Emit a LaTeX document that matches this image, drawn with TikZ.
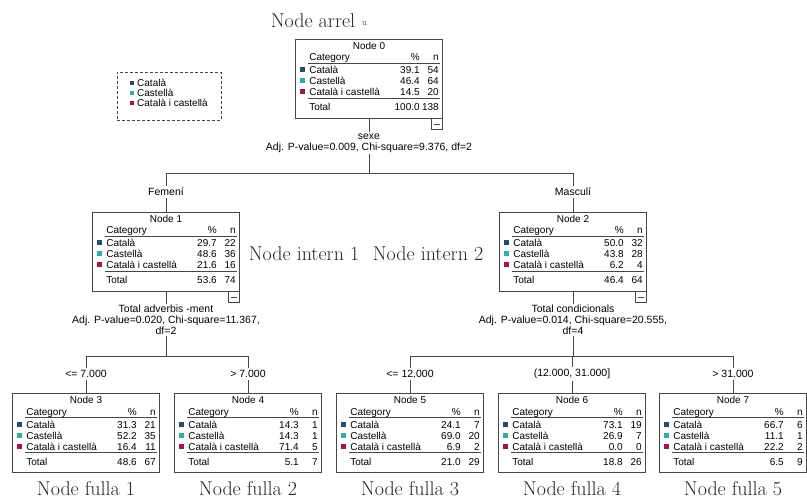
\documentclass[tikz,border=0pt]{standalone}
\usepackage{fontspec}
\setsansfont{Liberation Sans}
\usetikzlibrary{positioning, calc}
\definecolor{catblue}{RGB}{40, 75, 105}
\definecolor{castteal}{RGB}{55, 170, 160}
\definecolor{bothred}{RGB}{165, 20, 70}
\definecolor{treeline}{RGB}{70, 70, 70}

% one category row of a tree node: node, baseline, colour, label, %, n, row id
\newcommand{\spssrow}[7]{%
  \node[txt, anchor=base west] (#1-l#7) at ([xshift=14pt,yshift=-#2pt]#1.north west) {#4};
  \node[sq, fill=#3, left=3.5pt of #1-l#7] (#1-s#7) {};
  \node[txt, anchor=base east] (#1-p#7) at ([xshift=-23pt,yshift=-#2pt]#1.north east) {#5};
  \node[txt, anchor=base east] (#1-c#7) at ([xshift=-4pt,yshift=-#2pt]#1.north east) {#6};
}
% whole table of node k: k, then % and n for the three categories, then the total
\newcommand{\spsstable}[9]{%
  \node[txt] (n#1-t) at ([yshift=-7pt]n#1.north) {Node #1};
  \node[txt, anchor=base west] (n#1-h) at ([xshift=14pt,yshift=-22pt]n#1.north west) {Category};
  \node[txt, anchor=base east] (n#1-hp) at ([xshift=-23pt,yshift=-22pt]n#1.north east) {\%};
  \node[txt, anchor=base east] (n#1-hn) at ([xshift=-4pt,yshift=-22pt]n#1.north east) {n};
  \draw[rule] ([xshift=13pt,yshift=-24.5pt]n#1.north west) -- ([xshift=-3pt,yshift=-24.5pt]n#1.north east);
  \spssrow{n#1}{35}{catblue}{Català}{#2}{#3}{1}
  \spssrow{n#1}{46}{castteal}{Castellà}{#4}{#5}{2}
  \spssrow{n#1}{57}{bothred}{Català i castellà}{#6}{#7}{3}
  \draw[rule] ([xshift=13pt,yshift=-59.5pt]n#1.north west) -- ([xshift=-3pt,yshift=-59.5pt]n#1.north east);
  \node[txt, anchor=base west] (n#1-lt) at ([xshift=14pt,yshift=-72pt]n#1.north west) {Total};
  \node[txt, anchor=base east] (n#1-pt) at ([xshift=-23pt,yshift=-72pt]n#1.north east) {#8};
  \node[txt, anchor=base east] (n#1-ct) at ([xshift=-4pt,yshift=-72pt]n#1.north east) {#9};
}

\begin{document}
\begin{tikzpicture}[
    x=1pt, y=-1pt,
    tree/.style={rectangle, draw=treeline, line width=0.8pt, fill=white, minimum width=147pt, minimum height=79pt, inner sep=0pt},
    txt/.style={font=\sffamily\fontsize{10}{10}\selectfont, inner sep=0pt},
    split/.style={font=\sffamily\fontsize{10.5}{11}\selectfont, align=center, inner sep=1pt},
    branch/.style={font=\sffamily\fontsize{10.5}{11}\selectfont, inner sep=2pt},
    big/.style={font=\fontsize{20}{22}\selectfont, text=black!85, inner sep=0pt},
    sq/.style={rectangle, minimum size=5pt, inner sep=0pt},
    minus/.style={rectangle, draw=treeline, line width=0.8pt, minimum width=11pt, minimum height=11pt, inner sep=0pt},
    rule/.style={draw=treeline, line width=0.6pt},
    link/.style={draw=treeline, line width=0.8pt},
]
\useasboundingbox (0,0) rectangle (807,504);

% Labels
\node[big, anchor=base] (root) at (313,27) {Node arrel};
\node[font=\fontsize{9}{9}\selectfont, text=black!70, anchor=base west] (rootmark) at ([xshift=3pt,yshift=2pt]root.base east) {u};
\node[big, anchor=base] (int1) at (304,260) {Node intern 1};
\node[big, anchor=base] (int2) at (428,260) {Node intern 2};

% Legend
\node[draw=treeline, dashed, dash pattern=on 3pt off 2pt, line width=0.7pt, minimum width=104pt, minimum height=48pt] (legend) at (169,96) {};
\node[txt, anchor=west] (leg1) at (137,83) {Català};
\node[txt, anchor=west] (leg2) at (137,93) {Castellà};
\node[txt, anchor=west] (leg3) at (137,103) {Català i castellà};
\node[sq, minimum size=4pt, fill=catblue, left=2.5pt of leg1] (legsq1) {};
\node[sq, minimum size=4pt, fill=castteal, left=2.5pt of leg2] (legsq2) {};
\node[sq, minimum size=4pt, fill=bothred, left=2.5pt of leg3] (legsq3) {};

% Tree nodes
\node[tree] (n0) at (369,78.5) {};
\node[tree] (n1) at (166,251.5) {};
\node[tree] (n2) at (573,251.5) {};
\node[tree] (n3) at (86,433) {};
\node[tree] (n4) at (248,433) {};
\node[tree] (n5) at (410,433) {};
\node[tree] (n6) at (572,433) {};
\node[tree] (n7) at (733,433) {};

\spsstable{0}{39.1}{54}{46.4}{64}{14.5}{20}{100.0}{138}
\spsstable{1}{29.7}{22}{48.6}{36}{21.6}{16}{53.6}{74}
\spsstable{2}{50.0}{32}{43.8}{28}{6.2}{4}{46.4}{64}
\spsstable{3}{31.3}{21}{52.2}{35}{16.4}{11}{48.6}{67}
\spsstable{4}{14.3}{1}{14.3}{1}{71.4}{5}{5.1}{7}
\spsstable{5}{24.1}{7}{69.0}{20}{6.9}{2}{21.0}{29}
\spsstable{6}{73.1}{19}{26.9}{7}{0.0}{0}{18.8}{26}
\spsstable{7}{66.7}{6}{11.1}{1}{22.2}{2}{6.5}{9}

% Collapse boxes
\foreach \k in {0,1,2}{
  \node[minus, anchor=north east] (m\k) at (n\k.south east) {};
  \draw[link] ([xshift=2.5pt]m\k.west) -- ([xshift=-2.5pt]m\k.east);
}

% Split on sexe
\node[split] (s0) at (369,143) {sexe\\Adj. P-value=0.009, Chi-square=9.376, df=2};
\coordinate (j0) at (369,173);
\node[branch] (b1) at (166,192) {Femení};
\node[branch] (b2) at (573,192) {Masculí};
\draw[link] (n0.south) -- (s0.north);
\draw[link] (s0.south) -- (j0);
\draw[link] (b1.north |- j0) -- (b2.north |- j0);
\draw[link] (b1.north |- j0) -- (b1.north);
\draw[link] (b2.north |- j0) -- (b2.north);
\draw[link] (b1.south) -- (n1.north);
\draw[link] (b2.south) -- (n2.north);

% Split of node 1
\node[split] (s1) at (166,320) {Total adverbis -ment\\Adj. P-value=0.020, Chi-square=11.367,\\df=2};
\coordinate (j1) at (166,356);
\node[branch] (b3) at (86,374) {<= 7.000};
\node[branch] (b4) at (248,374) {> 7.000};
\draw[link] (n1.south) -- (s1.north);
\draw[link] (s1.south) -- (j1);
\draw[link] (b3.north |- j1) -- (b4.north |- j1);
\foreach \b/\n in {b3/n3, b4/n4}{
  \draw[link] (\b.north |- j1) -- (\b.north);
  \draw[link] (\b.south) -- (\n.north);
}

% Split of node 2
\node[split] (s2) at (573,320) {Total condicionals\\Adj. P-value=0.014, Chi-square=20.555,\\df=4};
\coordinate (j2) at (573,356);
\node[branch] (b5) at (410,374) {<= 12.000};
\node[branch] (b6) at (572,374) {(12.000, 31.000]};
\node[branch] (b7) at (733,374) {> 31.000};
\draw[link] (n2.south) -- (s2.north);
\draw[link] (s2.south) -- (j2);
\draw[link] (b5.north |- j2) -- (b7.north |- j2);
\foreach \b/\n in {b5/n5, b6/n6, b7/n7}{
  \draw[link] (\b.north |- j2) -- (\b.north);
  \draw[link] (\b.south) -- (\n.north);
}

% Leaf labels
\foreach \n/\k in {n3/1, n4/2, n5/3, n6/4, n7/5}{
  \node[big, anchor=base] (f\k) at (\n.south |- 0,495) {Node fulla \k};
}

\end{tikzpicture}
\end{document}
